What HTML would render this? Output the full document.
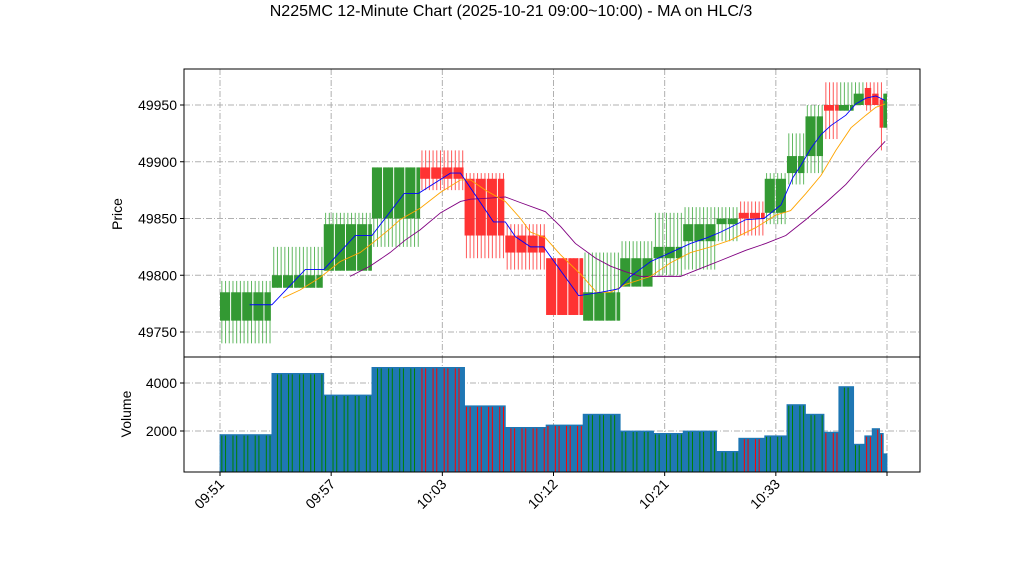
<!DOCTYPE html>
<html><head><meta charset="utf-8"><style>
html,body{margin:0;padding:0;background:#fff;}
svg{display:block;font-family:"Liberation Sans","DejaVu Sans",sans-serif;}
</style></head><body>
<svg id="c" width="1022" height="575" viewBox="0 0 1022 575">
<text x="511" y="16" text-anchor="middle" font-size="16">N225MC 12-Minute Chart (2025-10-21 09:00~10:00) - MA on HLC/3</text>
<g id="pg"></g><g id="vg"></g>
<text transform="translate(122,214) rotate(-90)" text-anchor="middle" font-size="14">Price</text>
<text transform="translate(131,414) rotate(-90)" text-anchor="middle" font-size="14">Volume</text>
</svg>
<script>
const groupStart=[0,14,28,41,54,66,77,88,98,108,117,125,134,140,147,153,158,163,167,171,174,176,178,179];
const groupEnd=[14,28,41,54,66,77,88,98,108,117,125,134,140,147,153,158,163,167,171,174,176,178,179,180];
const opens=[49760,49789,49804,49850,49895,49885,49835,49815,49760,49790,49815,49830,49845,49855,49855,49890,49905,49950,49945,49950,49965,49960,49955,49930];
const highs=[49795,49825,49855,49895,49910,49890,49845,49815,49820,49830,49855,49860,49860,49865,49890,49925,49950,49970,49970,49970,49970,49970,49970,49960];
const lows=[49740,49789,49804,49825,49875,49815,49805,49765,49760,49790,49800,49805,49830,49835,49845,49880,49890,49920,49945,49950,49945,49950,49910,49930];
const closes=[49785,49800,49845,49895,49885,49835,49820,49765,49785,49815,49825,49845,49850,49850,49885,49905,49940,49945,49950,49960,49950,49950,49930,49960];
const volumes=[1850,4400,3500,4650,4650,3050,2150,2250,2700,2000,1900,2000,1150,1700,1800,3100,2700,1950,3850,1450,1800,2100,1900,1050];
const maFastX=[8,14,23,28,36.5,41,49.7,53.5,62.2,64.9,73.8,77,79.7,83.8,87.3,96.8,102.7,107.6,110.8,116.2,121.6,127,131.4,135.1,141.9,146.8,151.4,154.6,156.8,159.5,162.2,164.9,168.9,171.6,174.3,177,179.5];
const maFastY=[49774,49774,49805,49805,49835,49835,49872,49872,49890,49890,49847,49847,49834,49825,49825,49782,49785,49788,49799,49812,49820,49828,49833,49838,49849,49850,49862,49886,49897,49912,49924,49932,49941,49951,49956,49958,49954];
const maMidX=[17,21.6,27,32.4,37.8,41,45.9,48.6,54,59.5,64.9,67.6,71.6,77,81.1,83.8,87.8,91.9,97.3,101.6,105.4,109.5,116.2,121.6,127,132.4,137.8,144.6,150,154,158.1,162.2,166.2,170.3,174.3,177,179.5];
const maMidY=[49780,49787,49798,49812,49820,49828,49841,49849,49859,49873,49884,49884,49875,49865,49850,49838,49833,49818,49801,49785,49785,49792,49799,49811,49820,49825,49831,49842,49853,49857,49872,49888,49910,49930,49941,49948,49951];
const maSlowX=[35.1,40.5,45.9,50,54,59.5,64.9,67.6,73,77,81.1,87.8,91.9,95.9,101.4,105.4,109.5,113.5,124.3,129.7,135.1,141.9,147.3,152.7,158.1,163.5,168.9,174.3,179.5];
const maSlowY=[49799,49808,49820,49831,49840,49855,49865,49867,49868,49869,49864,49856,49843,49828,49815,49808,49803,49799,49799,49806,49813,49822,49828,49835,49849,49864,49880,49900,49918];
const xTicks=[0,30,60,90,120,150,180];
const xTickLabels=["09:51","09:57","10:03","10:12","10:21","10:33",""];
const priceTicks=[49750,49800,49850,49900,49950];
const volTicks=[2000,4000];

const NS="http://www.w3.org/2000/svg";
const L=184,R=920,PT=69,PB=357,VB=472;
const X=i=>220+i*(887-220)/180;
const Y=p=>105+(49950-p)*227/200;
const VY=v=>479-v*0.024;
function mk(par,tag,a){const e=document.createElementNS(NS,tag);for(const k in a)e.setAttribute(k,a[k]);par.appendChild(e);return e;}
const pg=document.getElementById('pg'),vg=document.getElementById('vg');
const svg=document.getElementById('c');
priceTicks.forEach(t=>{
 const g=mk(pg,'line',{x1:L,x2:R,y1:Y(t),y2:Y(t),stroke:'#b0b0b0','stroke-dasharray':'6,2,1,2'});
 
 
 const tl=mk(svg,'line',{x1:L-4,x2:L,y1:Y(t),y2:Y(t),stroke:'#000'});
 
 
 const tx=mk(svg,'text',{x:L-7,y:Y(t)+5,'text-anchor':'end','font-size':14});tx.textContent=t;
 
 
});
volTicks.forEach(t=>{
 const g=mk(vg,'line',{x1:L,x2:R,y1:VY(t),y2:VY(t),stroke:'#b0b0b0','stroke-dasharray':'6,2,1,2'});
 
 
 const tl=mk(svg,'line',{x1:L-4,x2:L,y1:VY(t),y2:VY(t),stroke:'#000'});
 
 
 const tx=mk(svg,'text',{x:L-7,y:VY(t)+5,'text-anchor':'end','font-size':14});tx.textContent=t;
 
 
});
xTicks.forEach((t,i)=>{
 [[PT,PB],[PB,VB]].forEach(r=>{
  const g=mk(pg,'line',{x1:X(t),x2:X(t),y1:r[0],y2:r[1],stroke:'#b0b0b0','stroke-dasharray':'6,2,1,2'});
  
  
 });
 const tl=mk(svg,'line',{x1:X(t),x2:X(t),y1:VB,y2:VB+4,stroke:'#000'});
 
 
 if(xTickLabels[i]){
  const tx=mk(svg,'text',{x:0,y:0,'text-anchor':'end','font-size':14,transform:`translate(${X(t)+5},${VB+13}) rotate(-45)`});
  tx.textContent=xTickLabels[i];
  
  
 }
});
const bw=(887-220)/180;
groupStart.forEach((s,k)=>{
 const up=closes[k]>=opens[k];
 const col=up?'#2ca02c':'#ff2020';
 const bodyCol=up?'#339933':'#ff3333';
 const g=mk(pg,'g',{});
 
 
 for(let b=s;b<groupEnd[k];b++){
  const cx=X(b)+bw/2;
  const w=mk(g,'line',{x1:cx,x2:cx,y1:Y(highs[k]),y2:Y(lows[k]),stroke:col,'stroke-width':1,'stroke-opacity':0.75});
  
  
 }
 const top=Y(Math.max(opens[k],closes[k])),bot=Y(Math.min(opens[k],closes[k]));
 for(let b=s;b<groupEnd[k];b+=3){
  const e=Math.min(b+3,groupEnd[k]);
  const gap=(e-b)>=2?1:0;
  const body=mk(g,'rect',{x:X(b),y:top,width:X(e)-X(b)-gap,height:Math.max(1,bot-top),fill:bodyCol});
  
  
 }
 const vgG=mk(vg,'g',{});
 
 
 const vr=mk(vgG,'rect',{x:X(s),y:VY(volumes[k]),width:X(groupEnd[k])-X(s),height:VB-VY(volumes[k]),fill:'#1f77b4',stroke:'#1f77b4','stroke-width':0.8});
 
 
 for(let b=s;b<groupEnd[k];b++){
  if(b%3===2)continue;
  const cx=X(b)+bw/2;
  const st=mk(vgG,'line',{x1:cx,x2:cx,y1:VY(volumes[k])+1,y2:VB,stroke:up?'#008000':'#ff0000','stroke-width':1});
  
  
 }
});
function line(xs,ys,c,name){
 const p=mk(pg,'polyline',{points:xs.map((x,i)=>X(x)+','+Y(ys[i])).join(' '),fill:'none',stroke:c,'stroke-width':0.9});
 
 
}
line(maSlowX,maSlowY,'#800080','ma-slow-line');
line(maMidX,maMidY,'#ffa500','ma-mid-line');
line(maFastX,maFastY,'#0000ff','ma-fast-line');
const f1=mk(svg,'rect',{x:L,y:PT,width:R-L,height:PB-PT,fill:'none',stroke:'#000','stroke-width':1});


const f2=mk(svg,'rect',{x:L,y:PB,width:R-L,height:VB-PB,fill:'none',stroke:'#000','stroke-width':1});


</script>
</body></html>
